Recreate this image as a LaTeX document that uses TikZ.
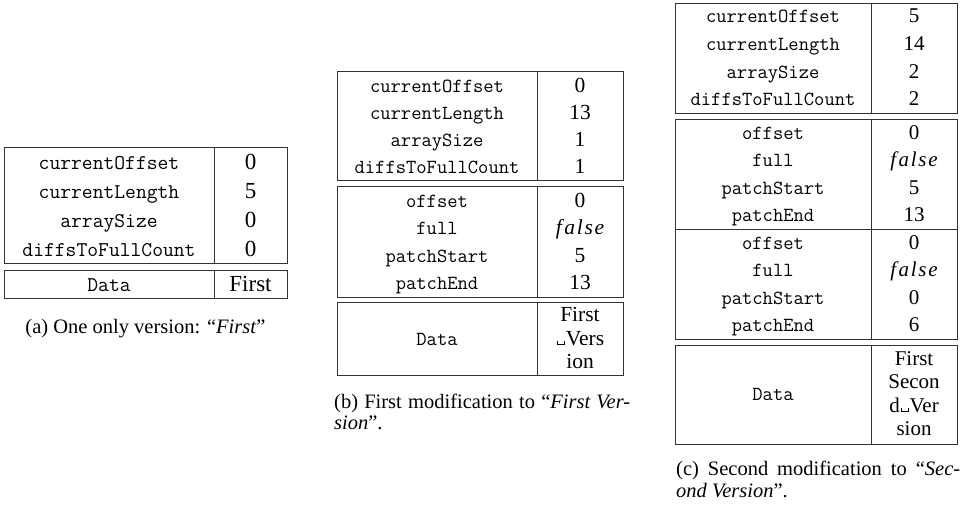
\documentclass[tikz,border=0pt]{standalone}
\usepackage{fontspec}
\setmainfont{Liberation Serif}
\newcommand\fsz[1]{\fontsize{#1}{#1}\selectfont}
\newcommand\vsp{\kern.04em\rule{.045em}{.2em}\rule{.3em}{.045em}\rule{.045em}{.2em}\kern.04em}
\newcommand\fls{{\itshape f\kern.12em a\kern.08em l\kern.08em s\kern.08em e}}
\begin{document}
\begin{tikzpicture}[x=1pt,y=-1pt,
  tbl/.style={draw=black!80,line width=0.9pt},
  ta/.style={anchor=base,inner sep=0pt,font=\ttfamily\fsz{21}},
  va/.style={anchor=base,inner sep=0pt,font=\fsz{23}},
  tb/.style={anchor=base,inner sep=0pt,font=\ttfamily\fsz{20}},
  vb/.style={anchor=base,inner sep=0pt,font=\fsz{21.5}},
  tc/.style={anchor=base,inner sep=0pt,font=\ttfamily\fsz{20}},
  vc/.style={anchor=base,inner sep=0pt,font=\fsz{21}},
  captxt/.style={anchor=base west,inner sep=0pt,font=\fsz{20.5}}]
\useasboundingbox (0,0) rectangle (965,511);

% ---------- (a) ----------
\draw[tbl] (4,147) rectangle (287,263);
\draw[tbl] (214,147) -- (214,263);
\draw[tbl] (4,270) rectangle (287,298);
\draw[tbl] (214,270) -- (214,298);
\node[ta] (a1) at (109,169) {currentOffset};
\node[ta] (a2) at (109,198) {currentLength};
\node[ta] (a3) at (109,227) {arraySize};
\node[ta] (a4) at (109,256) {diffsToFullCount};
\node[va] (av1) at (250.5,169) {0};
\node[va] (av2) at (250.5,198) {5};
\node[va] (av3) at (250.5,227) {0};
\node[va] (av4) at (250.5,256) {0};
\node[ta] (ad) at (109,291) {Data};
\node[va] (adv) at (250.5,291) {First};
\node[anchor=base,inner sep=0pt,font=\fsz{20.5}] (acap) at (145.5,333) {(a) One only version: “\textit{First}”};

% ---------- (b) ----------
\draw[tbl] (337,71) rectangle (623,180);
\draw[tbl] (537,71) -- (537,180);
\draw[tbl] (337,186) rectangle (623,297);
\draw[tbl] (537,186) -- (537,297);
\draw[tbl] (337,302) rectangle (623,375);
\draw[tbl] (537,302) -- (537,375);
\node[tb] (b1) at (437,92) {currentOffset};
\node[tb] (b2) at (437,119) {currentLength};
\node[tb] (b3) at (437,146) {arraySize};
\node[tb] (b4) at (437,173) {diffsToFullCount};
\node[vb] (bv1) at (580,92) {0};
\node[vb] (bv2) at (580,119) {13};
\node[vb] (bv3) at (580,146) {1};
\node[vb] (bv4) at (580,173) {1};
\node[tb] (b5) at (437,207) {offset};
\node[tb] (b6) at (437,234) {full};
\node[tb] (b7) at (437,262) {patchStart};
\node[tb] (b8) at (437,289) {patchEnd};
\node[vb] (bv5) at (580,207) {0};
\node[vb] (bv6) at (580,234) {\fls};
\node[vb] (bv7) at (580,262) {5};
\node[vb] (bv8) at (580,289) {13};
\node[tb] (bd) at (437,345) {Data};
\node[vb] (bd1) at (580,321) {First};
\node[vb] (bd2) at (580,345) {\vsp Vers};
\node[vb] (bd3) at (580,368) {ion};
\node[captxt] (bcap1) at (334,408) {\makebox[296pt][s]{(b) First modification to “\textit{First Ver-}}};
\node[captxt] (bcap2) at (334,429) {\textit{sion}”.};

% ---------- (c) ----------
\draw[tbl] (675,3) rectangle (957,113);
\draw[tbl] (871,3) -- (871,113);
\draw[tbl] (675,119) rectangle (957,339);
\draw[tbl] (675,229) -- (957,229);
\draw[tbl] (871,119) -- (871,339);
\draw[tbl] (675,345) rectangle (957,444);
\draw[tbl] (871,345) -- (871,444);
\node[tc] (c1) at (773,23) {currentOffset};
\node[tc] (c2) at (773,50) {currentLength};
\node[tc] (c3) at (773,78) {arraySize};
\node[tc] (c4) at (773,105) {diffsToFullCount};
\node[vc] (cv1) at (914,23) {5};
\node[vc] (cv2) at (914,50) {14};
\node[vc] (cv3) at (914,78) {2};
\node[vc] (cv4) at (914,105) {2};
\node[tc] (c5) at (773,139) {offset};
\node[tc] (c6) at (773,166) {full};
\node[tc] (c7) at (773,194) {patchStart};
\node[tc] (c8) at (773,221) {patchEnd};
\node[vc] (cv5) at (914,139) {0};
\node[vc] (cv6) at (914,166) {\fls};
\node[vc] (cv7) at (914,194) {5};
\node[vc] (cv8) at (914,221) {13};
\node[tc] (c9) at (773,249) {offset};
\node[tc] (c10) at (773,276) {full};
\node[tc] (c11) at (773,304) {patchStart};
\node[tc] (c12) at (773,331) {patchEnd};
\node[vc] (cv9) at (914,249) {0};
\node[vc] (cv10) at (914,276) {\fls};
\node[vc] (cv11) at (914,304) {0};
\node[vc] (cv12) at (914,331) {6};
\node[tc] (cd) at (773,400) {Data};
\node[vc] (cd1) at (914,365) {First};
\node[vc] (cd2) at (914,388) {Secon};
\node[vc] (cd3) at (914,412) {d\vsp Ver};
\node[vc] (cd4) at (914,435) {sion};
\node[captxt] (ccap1) at (676,475) {\makebox[284pt][s]{(c) Second modification to “\textit{Sec-}}};
\node[captxt] (ccap2) at (676,497) {\textit{ond Version}”.};
\end{tikzpicture}
\end{document}
